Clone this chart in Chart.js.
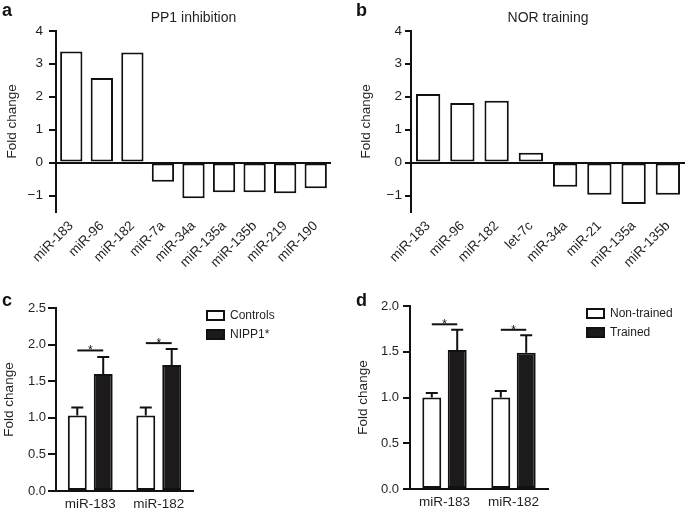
<!DOCTYPE html>
<html><head><meta charset="utf-8">
<script src="https://cdn.jsdelivr.net/npm/chart.js@4"></script>
<style>
html,body{margin:0;padding:0;background:#fff;}
#wrap{position:relative;width:685px;height:511px;overflow:hidden;background:#fff;}
canvas{position:absolute;}
.lbl{position:absolute;font:bold 18px "Liberation Sans",Arial,sans-serif;line-height:1;color:#111;}
</style></head><body>
<div id="wrap">
<canvas id="ca" width="340" height="280" style="left:0;top:0"></canvas>
<canvas id="cb" width="345" height="280" style="left:340px;top:0"></canvas>
<canvas id="cc" width="340" height="249" style="left:0;top:262px"></canvas>
<canvas id="cd" width="345" height="249" style="left:340px;top:262px"></canvas>
<div class="lbl" style="left:2px;top:1px">a</div>
<div class="lbl" style="left:356px;top:1px">b</div>
<div class="lbl" style="left:2px;top:291px">c</div>
<div class="lbl" style="left:356px;top:291px">d</div>
</div>
<script>
// ---- data ----
const catsA = ['miR-183','miR-96','miR-182','miR-7a','miR-34a','miR-135a','miR-135b','miR-219','miR-190'];
const valsA = [3.37, 2.57, 3.34, -0.58, -1.08, -0.90, -0.90, -0.93, -0.78];
const catsB = ['miR-183','miR-96','miR-182','let-7c','miR-34a','miR-21','miR-135a','miR-135b'];
const valsB = [2.08, 1.81, 1.88, 0.30, -0.73, -0.98, -1.26, -0.98];
const ticksAB = [4, 3, 2, 1, 0, -1];

const catsCD = ['miR-183', 'miR-182'];
const ctrlC = [1.03, 1.03];
const ctrlErrC = [0.11, 0.11];
const nippC = [1.60, 1.72];
const nippErrC = [0.23, 0.22];
const sigC = [1.92, 2.02];
const ticksC = [0, 0.5, 1.0, 1.5, 2.0, 2.5];

const nontrD = [1.00, 1.00];
const nontrErrD = [0.05, 0.07];
const trD = [1.52, 1.49];
const trErrD = [0.22, 0.19];
const sigD = [1.80, 1.74];
const ticksD = [0, 0.5, 1.0, 1.5, 2.0];

// ---- styling ----
const FONT = '"Liberation Sans", Arial, Helvetica, sans-serif';
const TXT = '#231f20';
const INK = '#111';
Chart.defaults.font.family = FONT;
Chart.defaults.color = TXT;
Chart.defaults.animation = false;

const fmtMinus = v => (v < 0 ? '\u2212' + Math.abs(v) : String(v));

// error bars plugin
const errorBars = {
  id: 'errorBars',
  afterDatasetsDraw(chart) {
    const ctx = chart.ctx, ys = chart.scales.y;
    chart.data.datasets.forEach((ds, di) => {
      if (!ds.errors) return;
      const meta = chart.getDatasetMeta(di);
      meta.data.forEach((el, i) => {
        const top = ys.getPixelForValue(ds.data[i] + ds.errors[i]);
        ctx.save();
        ctx.strokeStyle = INK; ctx.lineWidth = 2;
        ctx.beginPath();
        ctx.moveTo(el.x, el.y); ctx.lineTo(el.x, top);
        ctx.moveTo(el.x - 6, top); ctx.lineTo(el.x + 6, top);
        ctx.stroke();
        ctx.restore();
      });
    });
  }
};

// significance brackets
const sigMarks = {
  id: 'sigMarks',
  afterDatasetsDraw(chart, args, opts) {
    if (!opts || !opts.levels) return;
    const ctx = chart.ctx, ys = chart.scales.y;
    const m0 = chart.getDatasetMeta(0), m1 = chart.getDatasetMeta(1);
    opts.levels.forEach((lv, i) => {
      const y = ys.getPixelForValue(lv);
      const x1 = m0.data[i].x, x2 = m1.data[i].x;
      ctx.save();
      ctx.strokeStyle = INK; ctx.lineWidth = 2;
      ctx.beginPath(); ctx.moveTo(x1, y); ctx.lineTo(x2, y); ctx.stroke();
      ctx.fillStyle = INK;
      ctx.font = '12px ' + FONT;
      ctx.textAlign = 'center'; ctx.textBaseline = 'alphabetic';
      ctx.fillText('*', (x1 + x2) / 2, y + 4);
      ctx.restore();
    });
  }
};

// simple box legend drawn next to the plot area
const boxLegend = {
  id: 'boxLegend',
  afterDraw(chart, args, opts) {
    if (!opts || !opts.show) return;
    const ctx = chart.ctx, ca = chart.chartArea;
    chart.data.datasets.forEach((ds, i) => {
      const x = ca.right + opts.dx, y = ca.top + opts.dy + i * opts.step;
      ctx.save();
      ctx.fillStyle = ds.backgroundColor;
      ctx.fillRect(x, y, 19, 11);
      ctx.strokeStyle = INK; ctx.lineWidth = 2;
      ctx.strokeRect(x + 1, y + 1, 17, 9);
      ctx.fillStyle = TXT;
      ctx.font = '12px ' + FONT;
      ctx.textAlign = 'left'; ctx.textBaseline = 'middle';
      ctx.fillText(ds.label, x + 24, y + 6);
      ctx.restore();
    });
  }
};

function singleBar(id, cats, vals, title, yW, tickLen, tickPad, titlePad, padRight, barPct) {
  return new Chart(document.getElementById(id), {
    type: 'bar',
    data: {
      labels: cats,
      datasets: [{
        data: vals,
        backgroundColor: '#fff',
        borderColor: INK,
        borderWidth: 2,
        borderSkipped: false,
        categoryPercentage: 1,
        barPercentage: barPct
      }]
    },
    options: {
      responsive: false,
      layout: { padding: { left: 0, right: padRight, top: 0, bottom: 0 } },
      plugins: {
        legend: { display: false },
        tooltip: { enabled: false },
        title: { display: true, text: title, fullSize: false, color: TXT,
                 font: { size: 14, weight: 'normal' }, padding: { top: 10, bottom: 4 } }
      },
      scales: {
        x: {
          grid: { display: false, drawTicks: false },
          border: { display: false },
          ticks: { font: { size: 13.5 }, color: TXT, minRotation: 45, maxRotation: 45, padding: 6, autoSkip: false },
          afterFit: s => { s.height = 68; s.paddingLeft = 0; s.paddingRight = 0; }
        },
        y: {
          min: -1.5, max: 4,
          afterBuildTicks: s => { s.ticks = ticksAB.map(v => ({ value: v })); },
          afterFit: s => { s.width = yW; s.paddingTop = 0; s.paddingBottom = 0; },
          border: { display: true, color: INK, width: 2 },
          grid: {
            drawOnChartArea: true,
            color: c => (c.tick && c.tick.value === 0 ? INK : 'rgba(0,0,0,0)'),
            tickColor: INK, lineWidth: 2, tickLength: tickLen
          },
          ticks: { font: { size: 13.5 }, color: TXT, padding: tickPad, callback: v => fmtMinus(v) },
          title: { display: true, text: 'Fold change', color: TXT, font: { size: 13.5 }, padding: { top: titlePad, bottom: 0 } }
        }
      }
    }
  });
}

function groupBar(id, ds, ticks, ymax, sig, yW, xH, pad, tickLen, tickPad, titlePad, catPct, barPct, legDx) {
  return new Chart(document.getElementById(id), {
    type: 'bar',
    data: {
      labels: catsCD,
      datasets: ds.map((d, i) => ({
        label: d.label, data: d.data, errors: d.errors,
        backgroundColor: i === 0 ? '#fff' : '#1c1a1b',
        borderColor: INK, borderWidth: 2, borderSkipped: false,
        categoryPercentage: catPct, barPercentage: barPct
      }))
    },
    plugins: [errorBars, sigMarks, boxLegend],
    options: {
      responsive: false,
      layout: { padding: pad },
      plugins: {
        legend: { display: false },
        tooltip: { enabled: false },
        sigMarks: { levels: sig },
        boxLegend: { show: true, dx: legDx, dy: 2, step: 19 }
      },
      scales: {
        x: {
          grid: { display: false, drawTicks: false },
          border: { display: true, color: INK, width: 2 },
          ticks: { font: { size: 13.5 }, color: TXT, maxRotation: 0, padding: 5 },
          afterFit: s => { s.height = xH; s.paddingLeft = 0; s.paddingRight = 0; }
        },
        y: {
          min: 0, max: ymax,
          afterBuildTicks: s => { s.ticks = ticks.map(v => ({ value: v })); },
          afterFit: s => { s.width = yW; s.paddingTop = 0; s.paddingBottom = 0; },
          border: { display: true, color: INK, width: 2 },
          grid: { drawOnChartArea: false, color: INK, tickColor: INK, lineWidth: 2, tickLength: tickLen },
          ticks: { font: { size: 13 }, color: TXT, padding: tickPad, callback: v => Number(v).toFixed(1) },
          title: { display: true, text: 'Fold change', color: TXT, font: { size: 13.5 }, padding: { top: titlePad, bottom: 0 } }
        }
      }
    }
  });
}

singleBar('ca', catsA, valsA, 'PP1 inhibition', 56, 7, 6, 4, 9, 0.73);
singleBar('cb', catsB, valsB, 'NOR training', 71, 6, 3, 18, 0, 0.71);

groupBar('cc',
  [{ label: 'Controls', data: ctrlC, errors: ctrlErrC }, { label: 'NIPP1*', data: nippC, errors: nippErrC }],
  ticksC, 2.5, sigC, 56, 20, { left: 0, right: 147, top: 46, bottom: 0 }, 8, 2, 1, 0.757, 0.73, 13);

groupBar('cd',
  [{ label: 'Non-trained', data: nontrD, errors: nontrErrD }, { label: 'Trained', data: trD, errors: trErrD }],
  ticksD, 2.0, sigD, 70, 22, { left: 0, right: 137, top: 44, bottom: 0 }, 7, 4, 15, 0.737, 0.745, 38);
</script>
</body></html>
